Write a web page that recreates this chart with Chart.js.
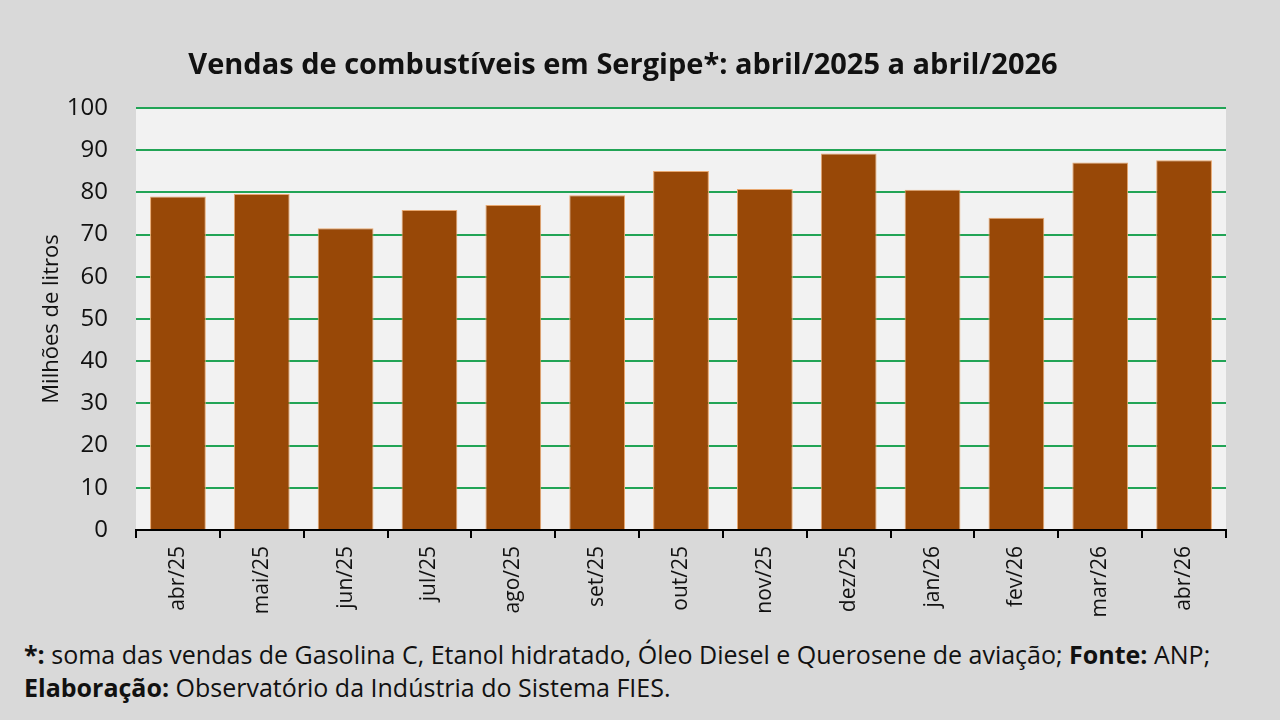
<!DOCTYPE html>
<html>
<head>
<meta charset="utf-8">
<script src="https://cdn.jsdelivr.net/npm/chart.js@4.4.1/dist/chart.umd.min.js"></script>
<style>
  html, body { margin: 0; padding: 0; background: #ffffff; }
  #wrap { position: relative; width: 1280px; height: 720px; background: #d9d9d9; overflow: hidden; font-family: "Open Sans", sans-serif; color: #111; }
  #chartBox { position: absolute; left: 0; top: 0; width: 1280px; height: 632px; }
  #title { position: absolute; left: 0; width: 1246px; top: 45px; line-height: 36px; text-align: center; font-weight: bold; font-size: 29px; color: #111; white-space: nowrap; }
  #footer { position: absolute; left: 24px; top: 638px; font-size: 25px; line-height: 33px; color: #111; white-space: nowrap; }
</style>
</head>
<body>
<div id="wrap">
  <div id="chartBox"><canvas id="c"></canvas></div>
  <div id="title">Vendas de combustíveis em Sergipe*: abril/2025 a abril/2026</div>
  <div id="footer"><b>*:</b> soma das vendas de Gasolina C, Etanol hidratado, Óleo Diesel e Querosene de aviação; <b>Fonte:</b> ANP;<br><b>Elaboração:</b> Observatório da Indústria do Sistema FIES.</div>
</div>
<script>
const categories = ["abr/25","mai/25","jun/25","jul/25","ago/25","set/25","out/25","nov/25","dez/25","jan/26","fev/26","mar/26","abr/26"];
const vendas = [79.0, 79.6, 71.5, 75.8, 77.0, 79.3, 85.1, 80.8, 89.2, 80.6, 74.0, 87.1, 87.6];
const yTicks = [0,10,20,30,40,50,60,70,80,90,100];
const yTitle = "Milhões de litros";

const plotBg = {
  id: 'plotBg',
  beforeDraw(chart) {
    const {ctx, chartArea} = chart;
    ctx.save();
    ctx.fillStyle = '#f2f2f2';
    ctx.fillRect(chartArea.left, chartArea.top, chartArea.right - chartArea.left, chartArea.bottom - chartArea.top);
    ctx.restore();
  }
};

new Chart(document.getElementById('c'), {
  type: 'bar',
  data: {
    labels: categories,
    datasets: [{
      data: vendas,
      backgroundColor: '#984807',
      borderColor: '#e8a870',
      borderWidth: 1,
      barPercentage: 0.665,
      categoryPercentage: 1.0
    }]
  },
  options: {
    responsive: true,
    maintainAspectRatio: false,
    animation: false,
    layout: { padding: { top: 108, right: 54, left: 0, bottom: 0 } },
    plugins: { legend: { display: false }, tooltip: { enabled: false }, title: { display: false } },
    scales: {
      x: {
        grid: { display: true, drawOnChartArea: false, drawTicks: true, tickLength: 8, color: '#000', lineWidth: 2 },
        border: { display: true, color: '#000', width: 2 },
        ticks: { minRotation: 90, maxRotation: 90, padding: 8, color: '#111', font: { family: 'Open Sans', size: 21 } },
        afterFit(scale) { scale.height = 102; }
      },
      y: {
        min: 0, max: 100,
        afterBuildTicks(scale) { scale.ticks = yTicks.map(v => ({ value: v })); },
        grid: { color: '#22a456', lineWidth: 2, drawTicks: false },
        border: { display: false },
        ticks: { padding: 28, color: '#111', font: { family: 'Open Sans', size: 24 } },
        title: { display: true, text: yTitle, color: '#111', font: { family: 'Open Sans', size: 22 }, padding: { top: 39, bottom: 0 } },
        afterFit(scale) { scale.width = 136; }
      }
    }
  },
  plugins: [plotBg]
});
</script>
</body>
</html>
